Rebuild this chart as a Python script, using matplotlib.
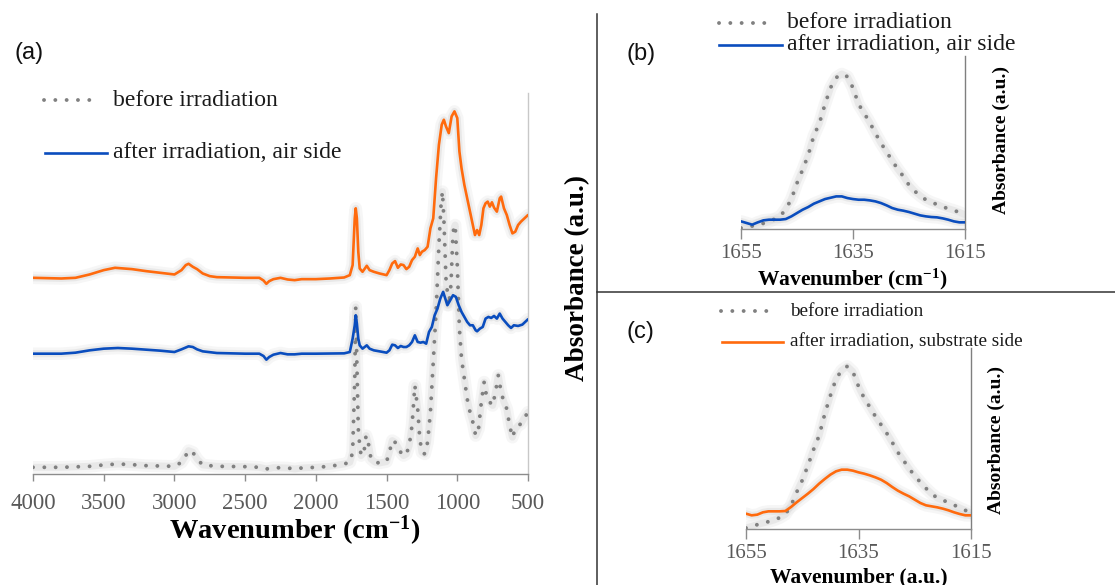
import matplotlib
matplotlib.use('Agg')
import matplotlib.pyplot as plt
from matplotlib.lines import Line2D

plt.rcParams['font.family'] = ['Liberation Serif', 'DejaVu Serif']
plt.rcParams['mathtext.fontset'] = 'custom'
plt.rcParams['mathtext.rm'] = 'Liberation Serif'
plt.rcParams['mathtext.bf'] = 'Liberation Serif:bold'
plt.rcParams['mathtext.it'] = 'Liberation Serif:italic'

# ---------------- data: panel (a) full spectra (absorbance, arbitrary units) ----------------
a_wn_before = [4000, 3800, 3600, 3500, 3400, 3300, 3200, 3000, 2950, 2920, 2900, 2870, 2840, 2800,
               2700, 2500, 2400, 2350, 2300, 2200, 2150, 2100, 2000, 1900, 1800, 1760, 1740, 1725,
               1718, 1710, 1700, 1690, 1680, 1660, 1645, 1630, 1610, 1580, 1550, 1500, 1480, 1460,
               1440, 1420, 1400, 1380, 1360, 1340, 1320, 1300, 1280, 1265, 1250, 1230, 1210, 1190,
               1170, 1150, 1130, 1115, 1105, 1095, 1080, 1060, 1045, 1030, 1015, 1000, 985, 970,
               950, 930, 910, 890, 870, 850, 830, 810, 790, 770, 750, 730, 710, 690, 670, 650,
               630, 610, 590, 570, 550, 530, 500]
a_before = [20, 20, 23, 27, 30, 28, 25, 23, 35, 55, 70, 65, 45, 27,
            23, 22, 20, 15, 19, 18, 15, 18, 20, 23, 30, 35, 65, 285,
            500, 335, 135, 85, 55, 65, 115, 95, 45, 35, 33, 37, 65, 100,
            95, 80, 65, 55, 60, 85, 145, 265, 195, 105, 65, 60, 95, 185,
            335, 485, 685, 805, 845, 765, 585, 505, 565, 725, 745, 625, 435, 345,
            285, 225, 185, 155, 115, 135, 215, 275, 225, 215, 205, 245, 295, 245, 215, 195,
            145, 110, 135, 145, 150, 165, 185]

a_wn_air = [4000, 3800, 3700, 3600, 3500, 3400, 3300, 3200, 3100, 3000, 2950, 2900, 2870, 2840,
            2800, 2700, 2500, 2400, 2370, 2350, 2330, 2300, 2250, 2200, 2150, 2100, 2000, 1800,
            1760, 1740, 1725, 1718, 1710, 1700, 1690, 1670, 1640, 1620, 1590, 1550, 1500, 1480,
            1460, 1440, 1420, 1400, 1380, 1360, 1340, 1320, 1300, 1280, 1260, 1240, 1220, 1200,
            1180, 1160, 1140, 1120, 1100, 1085, 1070, 1050, 1030, 1010, 990, 970, 950, 930,
            910, 890, 870, 860, 840, 820, 800, 780, 760, 740, 720, 700, 680, 660, 640, 620,
            600, 570, 540, 500]
a_air = [360, 360, 363, 370, 375, 377, 375, 372, 369, 365, 373, 382, 380, 373,
         367, 362, 360, 360, 353, 342, 350, 357, 362, 358, 358, 360, 360, 361,
         365, 405, 445, 475, 450, 405, 385, 375, 385, 375, 370, 367, 363, 370,
         387, 385, 377, 383, 380, 380, 385, 395, 415, 395, 393, 395, 390, 425,
         440, 475, 495, 525, 545, 525, 505, 520, 535, 530, 505, 485, 470, 455,
         445, 445, 430, 427, 435, 440, 465, 470, 467, 473, 465, 480, 465, 455, 445, 437,
         445, 443, 447, 463]

a_wn_sub = [4000, 3800, 3700, 3600, 3500, 3420, 3300, 3200, 3100, 3000, 2950, 2920, 2900, 2870,
            2840, 2800, 2750, 2700, 2500, 2400, 2370, 2350, 2330, 2300, 2250, 2200, 2150, 2100,
            2000, 1900, 1800, 1760, 1740, 1725, 1718, 1710, 1700, 1690, 1670, 1640, 1620, 1590,
            1550, 1500, 1480, 1460, 1440, 1420, 1400, 1380, 1360, 1340, 1320, 1300, 1280, 1265,
            1250, 1230, 1210, 1190, 1170, 1150, 1130, 1110, 1095, 1080, 1060, 1040, 1020, 1000,
            985, 970, 950, 930, 910, 890, 875, 860, 845, 830, 815, 800, 785, 770, 755, 740,
            720, 700, 690, 670, 650, 630, 610, 590, 570, 550, 530, 500]
a_sub = [587, 585, 587, 597, 610, 617, 613, 607, 602, 597, 610, 625, 629, 620,
         613, 600, 592, 589, 587, 587, 579, 569, 577, 583, 587, 582, 580, 583,
         583, 585, 588, 595, 625, 765, 795, 765, 665, 615, 605, 623, 610, 605,
         600, 595, 610, 630, 637, 617, 627, 625, 613, 620, 640, 650, 675, 655,
         665, 670, 680, 735, 765, 885, 985, 1045, 1060, 1040, 1020, 1070, 1085, 1065,
         965, 915, 865, 825, 785, 745, 715, 730, 715, 745, 795, 810, 815, 800, 813, 797,
         785, 825, 830, 795, 775, 745, 720, 725, 745, 755, 763, 775]
a_xticks = [4000, 3500, 3000, 2500, 2000, 1500, 1000, 500]

# ---------------- data: panels (b) and (c), 1655-1615 cm-1 ----------------
bc_wn = [1655, 1654, 1653, 1652, 1651, 1650, 1649, 1648, 1647, 1646, 1645, 1644, 1643, 1642,
         1641, 1640, 1639, 1638, 1637, 1636, 1635, 1634, 1633, 1632, 1631, 1630, 1629, 1628,
         1627, 1626, 1625, 1624, 1623, 1622, 1621, 1620, 1619, 1618, 1617, 1616, 1615]
b_before = [3, 6, 9, 12, 17, 22, 30, 38, 60, 90, 138, 178, 222, 280,
            318, 375, 425, 455, 466, 458, 424, 375, 348, 320, 288, 258, 232, 205,
            180, 158, 132, 114, 100, 88, 80, 74, 67, 61, 56, 50, 43]
b_air = [23, 18, 13, 20, 26, 28, 28, 28, 30, 38, 48, 58, 66, 76,
         83, 90, 94, 98, 98, 93, 90, 88, 88, 86, 83, 78, 71, 63,
         58, 55, 51, 46, 41, 38, 36, 35, 32, 28, 23, 20, 20]
c_before = [3, 8, 13, 18, 22, 27, 34, 44, 70, 110, 146, 190, 238, 280,
            345, 400, 450, 476, 488, 472, 428, 393, 366, 338, 313, 288, 260, 230,
            206, 181, 160, 140, 122, 106, 93, 86, 80, 72, 63, 56, 48]
c_substrate = [46, 41, 43, 50, 53, 53, 53, 54, 66, 80, 93, 106, 120, 136,
               150, 163, 173, 178, 178, 175, 170, 166, 161, 155, 148, 138, 126, 115,
               106, 98, 88, 78, 71, 68, 65, 61, 56, 50, 45, 41, 41]
bc_xticks = [1655, 1635, 1615]

# ---------------- styles ----------------
W, H = 1115, 585
ORANGE = '#FF6A0D'
BLUE = '#0A4DBE'
GRAY = '#808080'
TICKC = '#595959'
TEXTC = '#1a1a1a'

def px(x):
    return x / W

def py(y):
    return 1 - y / H

dot_style = dict(color=GRAY, lw=2.8, linestyle=(0, (0.01, 2.9)), dash_capstyle='round')
line_style = dict(lw=1.9, solid_capstyle='round', solid_joinstyle='round')


def glow(ax, x, y):
    ax.plot(x, y, color='#e6e6e6', lw=9, alpha=0.35, solid_capstyle='round', zorder=1)
    ax.plot(x, y, color='#d0d0d0', lw=5, alpha=0.35, solid_capstyle='round', zorder=1)


def style_axis(ax, xlim, ylim, xticks, tick_fs, ticklen, pad, right_color):
    ax.set_xlim(*xlim)
    ax.set_ylim(*ylim)
    ax.set_xticks(xticks)
    ax.set_xticklabels([str(t) for t in xticks])
    ax.set_yticks([])
    for s in ['top', 'left']:
        ax.spines[s].set_visible(False)
    ax.spines['bottom'].set_color('#8c8c8c')
    ax.spines['bottom'].set_linewidth(1.0)
    ax.spines['right'].set_color(right_color)
    ax.spines['right'].set_linewidth(1.0)
    ax.tick_params(axis='x', direction='out', length=ticklen, width=1.0, color='#8c8c8c',
                   labelsize=tick_fs, labelcolor=TICKC, pad=pad)
    ax.patch.set_alpha(0)


fig = plt.figure(figsize=(11.15, 5.85), dpi=100)

# ---------------- panel (a) ----------------
ax_a = fig.add_axes([px(33), py(474), px(495), 381 / H])
for xs, ys in [(a_wn_sub, a_sub), (a_wn_air, a_air), (a_wn_before, a_before)]:
    glow(ax_a, xs, ys)
ax_a.plot(a_wn_before, a_before, zorder=3, **dot_style)
ax_a.plot(a_wn_air, a_air, color=BLUE, zorder=4, **line_style)
ax_a.plot(a_wn_sub, a_sub, color=ORANGE, zorder=4, **line_style)
style_axis(ax_a, (4000, 500), (0, 1140), a_xticks, 16.5, 5, 9, '#c8c8c8')
ax_a.set_xlabel(r'Wavenumber (cm$^{\mathbf{-1}}$)', fontsize=20.5, fontweight='bold', va='center')
ax_a.xaxis.set_label_coords((295 - 33) / 495, (474 - 531) / 381)
ax_a.set_ylabel('Absorbance (a.u.)', fontsize=19.5, fontweight='bold', va='center', ha='center')
ax_a.yaxis.set_label_position('right')
ax_a.yaxis.set_label_coords((565 - 33) / 495, (474 - 278) / 381)

# ---------------- panel (b) ----------------
ax_b = fig.add_axes([px(741), py(229), px(224), 173 / H])
glow(ax_b, bc_wn, b_before)
glow(ax_b, bc_wn, b_air)
ax_b.plot(bc_wn, b_before, zorder=3, **dot_style)
ax_b.plot(bc_wn, b_air, color=BLUE, zorder=4, **line_style)
style_axis(ax_b, (1655, 1615), (0, 520), bc_xticks, 15, 7, 4, '#7f7f7f')
ax_b.set_xlabel(r'Wavenumber (cm$^{\mathbf{-1}}$)', fontsize=15.5, fontweight='bold', va='center')
ax_b.xaxis.set_label_coords((852 - 741) / 224, (229 - 279) / 173)
ax_b.set_ylabel('Absorbance (a.u.)', fontsize=14, fontweight='bold', va='center', ha='center')
ax_b.yaxis.set_label_position('right')
ax_b.yaxis.set_label_coords((993 - 741) / 224, (229 - 140) / 173)

# ---------------- panel (c) ----------------
ax_c = fig.add_axes([px(746), py(529), px(225), 181 / H])
glow(ax_c, bc_wn, c_before)
glow(ax_c, bc_wn, c_substrate)
ax_c.plot(bc_wn, c_before, zorder=3, **dot_style)
ax_c.plot(bc_wn, c_substrate, color=ORANGE, zorder=4, **line_style)
style_axis(ax_c, (1655, 1615), (0, 543), bc_xticks, 15, 7, 4, '#7f7f7f')
ax_c.set_xlabel('Wavenumber (a.u.)', fontsize=15.5, fontweight='bold', va='center')
ax_c.xaxis.set_label_coords((859 - 746) / 225, (529 - 577) / 181)
ax_c.set_ylabel('Absorbance (a.u.)', fontsize=14, fontweight='bold', va='center', ha='center')
ax_c.yaxis.set_label_position('right')
ax_c.yaxis.set_label_coords((988 - 746) / 225, (529 - 440) / 181)


# ---------------- legends (drawn as figure artists) ----------------
def legend_entry(x0, x1, y, style, text, tx, fs):
    fig.add_artist(Line2D([px(x0), px(x1)], [py(y), py(y)], transform=fig.transFigure, **style))
    fig.text(px(tx), py(y), text, fontsize=fs, va='center', ha='left', color=TEXTC)


legend_entry(44, 99, 100, dot_style, 'before irradiation', 113, 17)
legend_entry(45, 107, 153, dict(color=BLUE, lw=1.9), 'after irradiation, air side', 113, 17)
legend_entry(719, 774, 23, dot_style, 'before irradiation', 787, 17)
legend_entry(719, 782, 45, dict(color=BLUE, lw=1.9), 'after irradiation, air side', 787, 17)
legend_entry(721, 776, 311, dot_style, 'before irradiation', 790, 13.8)
legend_entry(722, 783, 342, dict(color=ORANGE, lw=1.9), 'after irradiation, substrate side', 790, 13.8)

# ---------------- panel letters ----------------
for lab, x, y in [('(a)', 14, 53), ('(b)', 626, 54), ('(c)', 626, 332)]:
    fig.text(px(x), py(y), lab, fontsize=17, va='center', ha='left',
             family=['Liberation Sans', 'DejaVu Sans'], color='#111111')

# ---------------- panel dividers ----------------
fig.add_artist(Line2D([px(597), px(597)], [py(14), py(585)], transform=fig.transFigure,
                      color='#333333', lw=1.1))
fig.add_artist(Line2D([px(597), 1.0], [py(292), py(292)], transform=fig.transFigure,
                      color='#333333', lw=1.1))

fig.savefig('out.png', dpi=100)
